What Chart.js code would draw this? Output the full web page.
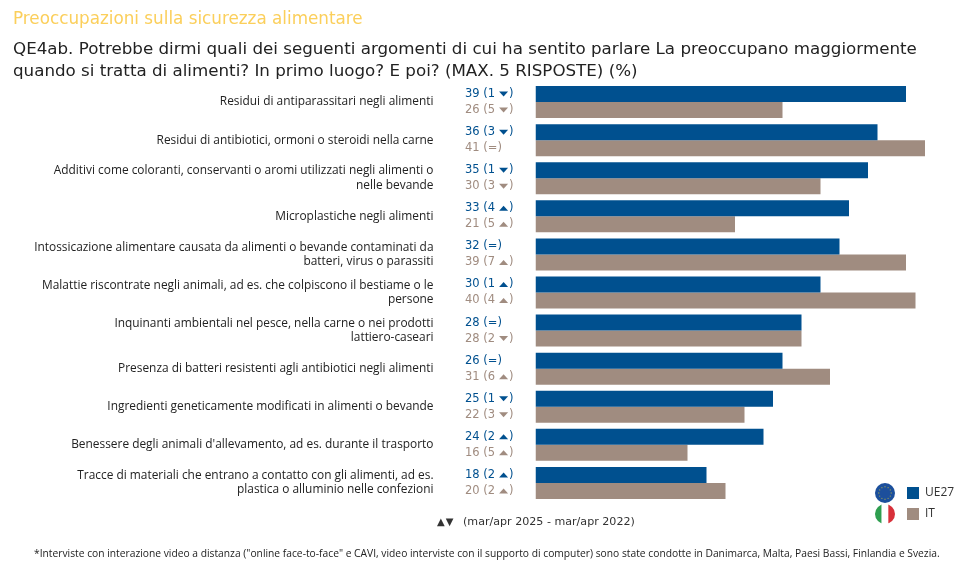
<!DOCTYPE html>
<html>
<head>
<meta charset="utf-8">
<style>
  html, body { margin: 0; padding: 0; background: #fff; }
  #wrap { position: relative; width: 961px; height: 567px; overflow: hidden; font-family: "DejaVu Sans", sans-serif; }
  #wrap canvas { position: absolute; left: 0; top: 0; }
  .txt { position: absolute; white-space: nowrap; }
  #title { left: 13px; top: 8px; font-size: 16.8px; color: #fbcf5b; }
  #question { left: 13px; top: 37px; font-size: 16.7px; line-height: 22px; color: #222; }
  #period { left: 437px; top: 515px; font-size: 11.1px; color: #333; }
  #period span { display: inline-block; width: 26px; font-size: 10px; letter-spacing: 1px; }
  #note { left: 34px; top: 546px; font-family: "Open Sans", sans-serif; font-size: 10.27px; color: #222; }
</style>
</head>
<body>
<div id="wrap">
  <canvas id="chart" width="961" height="567"></canvas>
  <div class="txt" id="title">Preoccupazioni sulla sicurezza alimentare</div>
  <div class="txt" id="question">QE4ab. Potrebbe dirmi quali dei seguenti argomenti di cui ha sentito parlare La preoccupano maggiormente<br>quando si tratta di alimenti? In primo luogo? E poi? (MAX. 5 RISPOSTE) (%)</div>
  <div class="txt" id="period"><span>▲▼</span>(mar/apr 2025 - mar/apr 2022)</div>
  <div class="txt" id="note">*Interviste con interazione video a distanza ("online face-to-face" e CAVI, video interviste con il supporto di computer) sono state condotte in Danimarca, Malta, Paesi Bassi, Finlandia e Svezia.</div>
</div>
<script src="https://cdn.jsdelivr.net/npm/chart.js@4"></script>
<script>
const categories = [
  'Residui di antiparassitari negli alimenti',
  'Residui di antibiotici, ormoni o steroidi nella carne',
  ['Additivi come coloranti, conservanti o aromi utilizzati negli alimenti o', 'nelle bevande'],
  'Microplastiche negli alimenti',
  ['Intossicazione alimentare causata da alimenti o bevande contaminati da', 'batteri, virus o parassiti'],
  ['Malattie riscontrate negli animali, ad es. che colpiscono il bestiame o le', 'persone'],
  ['Inquinanti ambientali nel pesce, nella carne o nei prodotti', 'lattiero-caseari'],
  'Presenza di batteri resistenti agli antibiotici negli alimenti',
  'Ingredienti geneticamente modificati in alimenti o bevande',
  "Benessere degli animali d'allevamento, ad es. durante il trasporto",
  ['Tracce di materiali che entrano a contatto con gli alimenti, ad es.', 'plastica o alluminio nelle confezioni']
];
const ue27Values = [39, 36, 35, 33, 32, 30, 28, 26, 25, 24, 18];
const itValues = [26, 41, 30, 21, 39, 40, 28, 31, 22, 16, 20];
// change against mar/apr 2022, negative = down, 0 = (=)
const ue27Change = [-1, -3, -1, 4, 0, 1, 0, 0, -1, 2, 2];
const itChange = [-5, 0, -3, 5, 7, 4, -2, 6, -3, 5, 2];

const BLUE = '#00508f';
const TAUPE = '#a08c80';
const LABEL_FONT = '"Open Sans", sans-serif';
const VALUE_FONT = '"DejaVu Sans", sans-serif';

// one "39 (1 ▼)" label, drawn at x,y
function drawChange(ctx, x, y, value, change, color) {
  ctx.fillStyle = color;
  ctx.font = '11.5px ' + VALUE_FONT;
  ctx.textAlign = 'left';
  ctx.textBaseline = 'middle';
  if (change === 0) {
    ctx.fillText(value + ' (=)', x, y);
    return;
  }
  const text = value + ' (' + Math.abs(change);
  ctx.fillText(text, x, y);
  const tx = x + ctx.measureText(text).width + 4;
  ctx.beginPath();
  if (change > 0) {
    ctx.moveTo(tx, y + 2.5); ctx.lineTo(tx + 9, y + 2.5); ctx.lineTo(tx + 4.5, y - 2.5);
  } else {
    ctx.moveTo(tx, y - 2.5); ctx.lineTo(tx + 9, y - 2.5); ctx.lineTo(tx + 4.5, y + 2.5);
  }
  ctx.closePath();
  ctx.fill();
  ctx.fillText(')', tx + 10, y);
}

const changeLabels = {
  id: 'changeLabels',
  afterDatasetsDraw(chart) {
    const ctx = chart.ctx;
    const y = chart.scales.y;
    ctx.save();
    categories.forEach((c, i) => {
      const cy = y.getPixelForValue(i);
      drawChange(ctx, 465, cy - 8, ue27Values[i], ue27Change[i], BLUE);
      drawChange(ctx, 465, cy + 8, itValues[i], itChange[i], TAUPE);
    });
    ctx.restore();
  }
};

function drawEuFlag(ctx, cx, cy, r) {
  ctx.fillStyle = '#1c4f9c';
  ctx.beginPath(); ctx.arc(cx, cy, r, 0, Math.PI * 2); ctx.fill();
  ctx.fillStyle = '#8f9a5a';
  for (let i = 0; i < 12; i++) {
    const a = i * Math.PI / 6;
    ctx.beginPath();
    ctx.arc(cx + Math.cos(a) * r * 0.62, cy + Math.sin(a) * r * 0.62, 0.7, 0, Math.PI * 2);
    ctx.fill();
  }
}

function drawItFlag(ctx, cx, cy, r) {
  ctx.save();
  ctx.beginPath(); ctx.arc(cx, cy, r, 0, Math.PI * 2); ctx.clip();
  ctx.fillStyle = '#2e9e4f'; ctx.fillRect(cx - r, cy - r, r * 2 / 3, r * 2);
  ctx.fillStyle = '#fff'; ctx.fillRect(cx - r / 3, cy - r, r * 2 / 3, r * 2);
  ctx.fillStyle = '#d8303a'; ctx.fillRect(cx + r / 3, cy - r, r * 2 / 3, r * 2);
  ctx.restore();
}

const flagLegend = {
  id: 'flagLegend',
  afterDraw(chart) {
    const ctx = chart.ctx;
    ctx.save();
    drawEuFlag(ctx, 885, 493, 10);
    drawItFlag(ctx, 885, 514, 10);
    chart.data.datasets.forEach((ds, i) => {
      const y = 493 + i * 21;
      ctx.fillStyle = ds.backgroundColor;
      ctx.fillRect(907, y - 6, 12, 12);
      ctx.fillStyle = '#333';
      ctx.font = '12px ' + LABEL_FONT;
      ctx.textAlign = 'left';
      ctx.textBaseline = 'middle';
      ctx.fillText(ds.label, 925, y);
    });
    ctx.restore();
  }
};

new Chart(document.getElementById('chart'), {
  type: 'bar',
  data: {
    labels: categories,
    datasets: [
      { label: 'UE27', data: ue27Values, backgroundColor: BLUE },
      { label: 'IT', data: itValues, backgroundColor: TAUPE }
    ]
  },
  options: {
    indexAxis: 'y',
    responsive: false,
    animation: false,
    devicePixelRatio: 1,
    layout: { padding: { top: 83, bottom: 65, right: 7.5, left: 0 } },
    datasets: { bar: { categoryPercentage: 0.84, barPercentage: 1 } },
    plugins: { legend: { display: false }, tooltip: { enabled: false } },
    scales: {
      x: { min: 0, max: 44, display: false, grid: { display: false } },
      y: {
        grid: { display: false, drawTicks: false },
        border: { display: false },
        afterFit(scale) {
          scale.width = 535.5;
          scale.paddingTop = 0;
          scale.paddingBottom = 0;
        },
        ticks: {
          autoSkip: false,
          padding: 102,
          color: '#222',
          font: { family: LABEL_FONT, size: 11.9, lineHeight: 1.2 }
        }
      }
    }
  },
  plugins: [changeLabels, flagLegend]
});
</script>
</body>
</html>
